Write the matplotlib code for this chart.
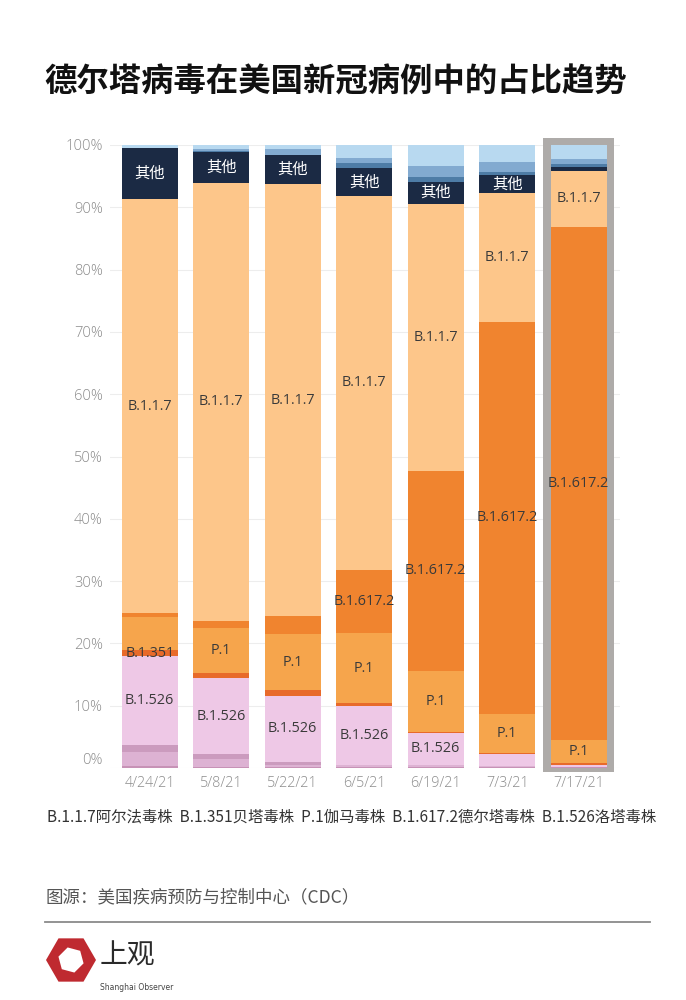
import matplotlib
matplotlib.use('Agg')
import matplotlib.pyplot as plt
from matplotlib.patches import Rectangle, Polygon
import numpy as np

plt.rcParams['font.family'] = ['Noto Sans CJK SC', 'DejaVu Sans']

# 日期
dates = ['4/24/21', '5/8/21', '5/22/21', '6/5/21', '6/19/21', '7/3/21', '7/17/21']

# 各毒株占比(%)，从下往上堆叠
pink_base = [0.3, 0.2, 0.2, 0.2, 0.2, 0.2, 0.1]
pink_mid = [2.3, 1.2, 0.3, 0.3, 0.3, 0.1, 0.1]
pink_dark = [1.1, 0.8, 0.5, 0.0, 0.0, 0.0, 0.0]
b1526 = [14.3, 12.2, 10.6, 9.5, 5.1, 1.9, 0.3]
b1351 = [0.9, 0.9, 0.9, 0.4, 0.2, 0.2, 0.35]
p1 = [5.4, 7.1, 9.0, 11.2, 9.8, 6.3, 3.65]
delta = [0.5, 1.2, 2.9, 10.2, 32.1, 62.9, 82.4]
b117 = [66.5, 70.3, 69.3, 60.0, 42.9, 20.7, 9.0]
other = [8.2, 5.0, 4.7, 4.5, 3.5, 2.9, 0.5]
blue_steel = [0.0, 0.2, 0.0, 0.8, 0.8, 0.5, 0.6]
blue_mid = [0.0, 0.2, 0.9, 0.8, 1.7, 1.6, 0.7]
blue_light = [0.5, 0.7, 0.7, 2.1, 3.4, 2.7, 2.3]

# 哪些柱子上标注名称
show_b1526 = [0, 1, 2, 3, 4]
show_b1351 = [0]
show_p1 = [1, 2, 3, 4, 5, 6]
show_delta = [3, 4, 5, 6]
show_b117 = [0, 1, 2, 3, 4, 5, 6]
show_other = [0, 1, 2, 3, 4, 5]

legend_text = 'B.1.1.7阿尔法毒株  B.1.351贝塔毒株  P.1伽马毒株  B.1.617.2德尔塔毒株  B.1.526洛塔毒株'

layers = [
    (pink_base, '#C792B6', None, [], '#333333'),
    (pink_mid, '#DDB2D3', None, [], '#333333'),
    (pink_dark, '#CB9BBE', None, [], '#333333'),
    (b1526, '#EEC8E6', 'B.1.526', show_b1526, '#3a3a3a'),
    (b1351, '#E86A2A', 'B.1.351', show_b1351, '#3a3a3a'),
    (p1, '#F6A54C', 'P.1', show_p1, '#3a3a3a'),
    (delta, '#F0842F', 'B.1.617.2', show_delta, '#3a3a3a'),
    (b117, '#FDC68A', 'B.1.1.7', show_b117, '#3a3a3a'),
    (other, '#1B2A44', '其他', show_other, 'white'),
    (blue_steel, '#4E7CA6', None, [], 'white'),
    (blue_mid, '#82AAD0', None, [], 'white'),
    (blue_light, '#B8D9F0', None, [], 'white'),
]

latin = ['Open Sans', 'DejaVu Sans']

fig = plt.figure(figsize=(6.86, 10), dpi=100)
ax = fig.add_axes([0.160, 0.232, 0.744, 0.623])

x = np.arange(len(dates))
width = 0.78

# 最新一周的灰色框
ax.add_patch(Rectangle((x[-1] - 0.5, -0.7), 1.0, 101.9, facecolor='#AEABA9',
                       edgecolor='none', zorder=2, clip_on=False))

bottom = np.zeros(len(dates))
for vals, color, name, idx, tcolor in layers:
    vals = np.array(vals)
    ax.bar(x, vals, width, bottom=bottom, color=color, edgecolor='none', zorder=3)
    for i in idx:
        yc = bottom[i] + vals[i] / 2
        if name == '其他':
            ax.text(x[i], yc, name, ha='center', va='center', color=tcolor,
                    fontsize=11, fontweight='medium', zorder=5)
        else:
            ax.text(x[i], yc, name, ha='center', va='center', color=tcolor,
                    fontsize=10.4, family=latin, zorder=5)
    bottom = bottom + vals

ax.set_xlim(-0.56, 6.58)
ax.set_ylim(0, 100)
ax.set_yticks(np.arange(0, 101, 10))
ax.set_yticklabels([f'{v}%' for v in range(0, 101, 10)], family=latin,
                   fontweight='light')
ax.set_xticks(x)
ax.set_xticklabels(dates, family=latin, fontweight='light')
ax.tick_params(axis='y', length=0, pad=5, labelsize=10.6, labelcolor='#8c8c8c')
ax.tick_params(axis='x', length=0, pad=6, labelsize=10.4, labelcolor='#8c8c8c')
ax.get_yticklabels()[0].set_va('bottom')
ax.grid(axis='y', color='#EDEDED', linewidth=0.8, zorder=0)
ax.set_axisbelow(True)
for s in ax.spines.values():
    s.set_visible(False)

# 标题
fig.text(0.065, 0.918, '德尔塔病毒在美国新冠病例中的占比趋势', fontsize=23.3,
         fontweight='black', color='#111111', va='center', ha='left')

# 图例说明
fig.text(0.068, 0.183, legend_text, fontsize=11.1, color='#333333',
         va='center', ha='left')

# 来源
fig.text(0.066, 0.103, '图源：美国疾病预防与控制中心（CDC）', fontsize=12.6,
         color='#555555', va='center', ha='left', fontweight='light')

# 覆盖层：分隔线与标志
over = fig.add_axes([0, 0, 1, 1])
over.set_xlim(0, 686)
over.set_ylim(1000, 0)
over.axis('off')
over.plot([45, 650], [922, 922], color='#8a8a8a', linewidth=1.3)

ang = np.deg2rad(np.arange(0, 360, 60))
outer = np.column_stack([71 + 25 * np.cos(ang), 960 + 25 * np.sin(ang)])
over.add_patch(Polygon(outer, closed=True, facecolor='#BF2A30', edgecolor='none'))
ang2 = ang + np.deg2rad(15)
inner = np.column_stack([71 + 13 * np.cos(ang2), 960 + 13 * np.sin(ang2)])
over.add_patch(Polygon(inner, closed=True, facecolor='white', edgecolor='none'))
over.text(100, 955, '上观', fontsize=20, color='#2a2a2a', va='center', ha='left')
over.text(100, 987, 'Shanghai Observer', fontsize=5.5, color='#444444',
          va='center', ha='left', family=['DejaVu Sans'])

fig.savefig('out.png', dpi=100, facecolor='white')
